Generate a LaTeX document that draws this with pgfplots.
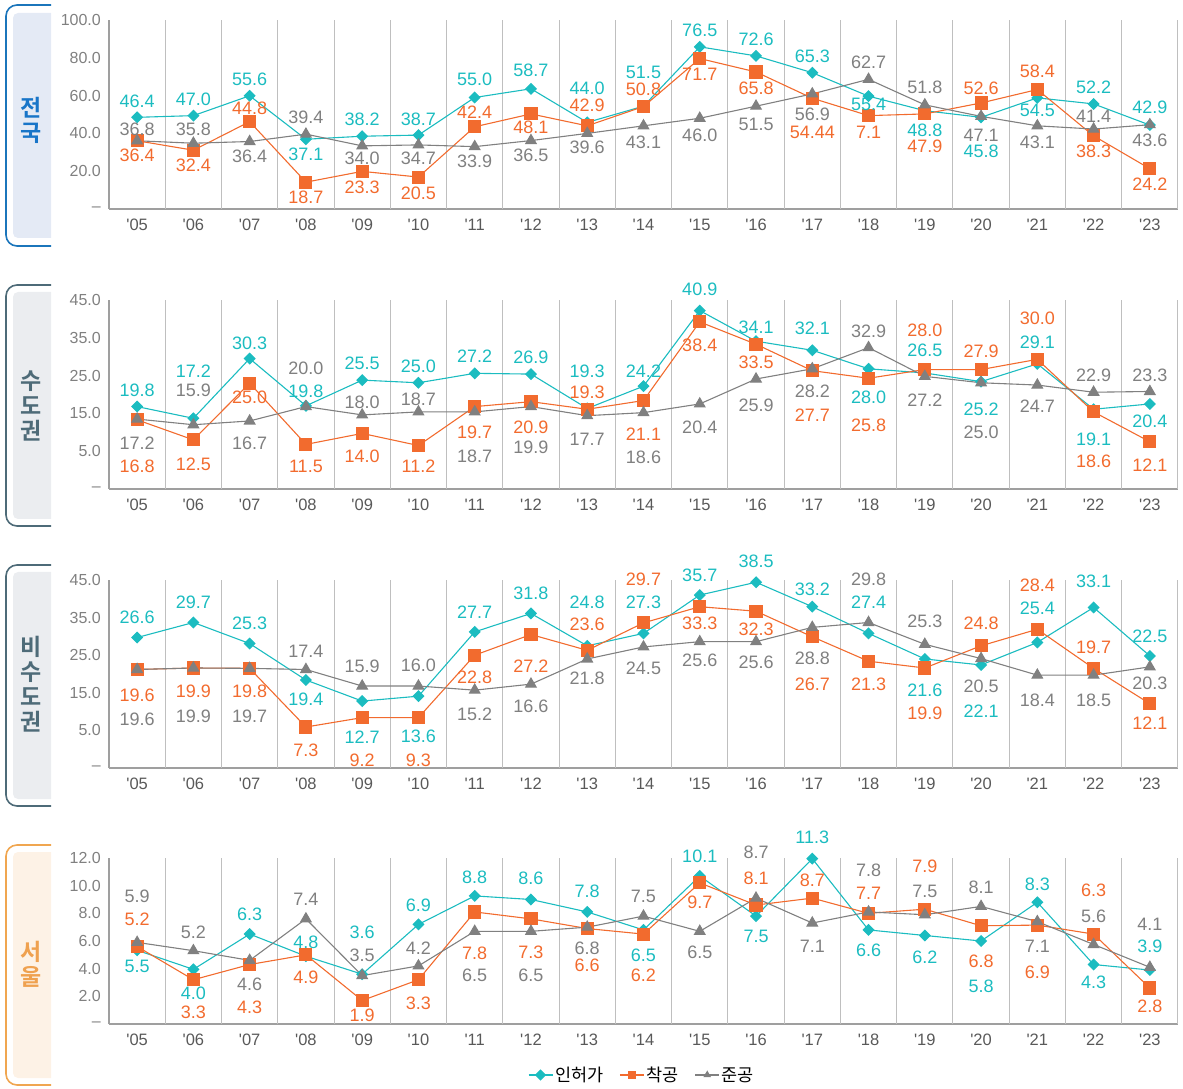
\documentclass[border=0pt]{standalone}
\usepackage{pgfplots}
\pgfplotsset{compat=1.18}
\usepackage{pgfplotstable}
\usepackage{fontspec}
\setmainfont{Liberation Sans}
\newfontfamily\lab{Liberation Sans}
\newfontfamily\kr{Noto Sans CJK KR}
\newfontfamily\krb{Noto Sans CJK KR Bold}
\definecolor{cteal}{HTML}{1BBCC0}
\definecolor{corange}{HTML}{F26B2E}
\definecolor{cgray}{HTML}{808080}
\definecolor{bBlue}{HTML}{1B75BB}
\definecolor{fBlue}{HTML}{E4EAF5}
\definecolor{tBlue}{HTML}{1875C8}
\definecolor{bSlate}{HTML}{4E6B78}
\definecolor{fSlate}{HTML}{EBEDF0}
\definecolor{bOr}{HTML}{F0A650}
\definecolor{fOr}{HTML}{FDF2E6}
\definecolor{tOr}{HTML}{EFA14F}

% x: category, a/b/c: 인허가/착공/준공 point values, la/lb/lc: label positions, ta/tb/tc: label texts
\pgfplotstableread{
x a b c la lb lc ta tb tc
0 48.5 36.1 36.1 56.8 28.4 41.9 46.4 36.4 36.8
1 49.4 31.1 34.8 58.3 23.3 42.3 47.0 32.4 35.8
2 59.9 46.2 35.7 68.4 53.5 28.1 55.6 44.8 36.4
3 36.9 14.2 39.6 29.0 6.4 48.5 37.1 18.7 39.4
4 38.5 19.9 33.4 47.6 11.7 26.6 38.2 23.3 34.0
5 39.1 16.9 33.9 47.6 8.2 26.6 38.7 20.5 34.7
6 59.0 43.5 33.0 68.4 51.2 25.0 55.0 42.4 33.9
7 63.6 50.3 36.2 73.4 43.2 28.4 58.7 48.1 36.5
8 45.8 44.0 40.0 63.6 54.7 32.5 44.0 42.9 39.6
9 54.4 54.2 44.0 72.1 63.2 35.5 51.5 50.8 43.1
10 85.8 79.6 48.0 94.7 71.0 39.1 76.5 71.7 46.0
11 81.0 72.5 54.4 89.9 63.9 44.9 72.6 65.8 51.5
12 72.1 58.6 60.9 81.0 40.5 50.3 65.3 54.44 56.9
13 59.7 49.4 68.6 55.1 40.5 77.4 55.4 7.1 62.7
14 52.0 50.3 55.1 41.7 33.4 64.5 48.8 47.9 51.8
15 48.5 56.1 49.0 30.7 63.9 39.1 45.8 52.6 47.1
16 58.8 63.2 44.0 52.0 72.8 35.5 54.5 58.4 43.1
17 55.6 38.7 42.3 64.5 30.7 49.0 52.2 38.3 41.4
18 44.4 21.3 44.6 53.8 13.3 36.1 42.9 24.2 43.6
}\tA

\pgfplotstableread{
x a b c la lb lc ta tb tc
0 16.8 13.3 13.5 21.0 0.9 7.1 19.8 16.8 17.2
1 13.7 8.0 12.0 26.1 1.5 21.0 17.2 12.5 15.9
2 29.5 23.0 13.0 33.5 19.2 7.1 30.3 25.0 16.7
3 17.0 6.8 16.8 20.8 0.9 27.0 19.8 11.5 20.0
4 23.8 9.7 14.6 28.3 3.7 17.9 25.5 14.0 18.0
5 23.1 6.5 15.4 27.4 0.9 18.6 25.0 11.2 18.7
6 25.6 16.8 15.4 30.1 10.1 3.7 27.2 19.7 18.7
7 25.4 18.1 16.8 29.9 11.3 5.9 26.9 20.9 19.9
8 16.3 16.1 14.4 26.1 20.6 8.1 19.3 19.3 17.7
9 22.2 18.4 15.2 26.1 9.5 3.3 24.2 21.1 18.6
10 42.2 39.2 17.5 47.7 33.0 11.4 40.9 38.4 20.4
11 34.1 33.3 24.1 37.7 28.4 17.2 34.1 33.5 25.9
12 31.7 26.3 26.8 37.5 14.5 20.8 32.1 27.7 28.2
13 26.8 24.3 32.4 19.2 11.9 36.8 28.0 25.8 32.9
14 25.7 26.6 24.8 31.7 37.0 18.6 26.5 28.0 27.2
15 23.4 26.6 23.1 16.1 31.5 9.9 25.2 27.9 25.0
16 28.1 29.3 22.5 33.9 40.1 17.0 29.1 30.0 24.7
17 16.1 15.4 20.6 8.1 2.4 25.0 19.1 18.6 22.9
18 17.5 7.5 20.8 13.0 1.3 25.0 20.4 12.1 23.3
}\tB

\pgfplotstableread{
x a b c la lb lc ta tb tc
0 29.7 21.2 21.2 35.2 14.4 8.0 26.6 19.6 19.6
1 33.7 21.6 21.6 39.0 15.4 8.8 29.7 19.9 19.9
2 28.1 21.5 21.5 33.6 15.4 8.8 25.3 19.8 19.7
3 18.4 5.9 21.2 13.3 -0.3 26.1 19.4 7.3 17.4
4 12.8 8.4 16.8 3.3 -3.0 22.1 12.7 9.2 15.9
5 14.1 8.4 16.8 3.3 -3.0 22.4 13.6 9.3 16.0
6 31.2 25.0 15.7 36.4 19.2 9.2 27.7 22.8 15.2
7 36.1 30.5 17.3 41.4 22.2 11.3 31.8 27.2 16.6
8 27.5 26.3 24.0 39.2 33.3 18.8 24.8 23.6 21.8
9 30.8 33.6 27.2 39.0 45.3 21.6 27.3 29.7 24.5
10 41.0 37.9 28.6 46.2 33.5 23.7 35.7 33.3 25.6
11 44.4 36.7 28.6 49.9 31.9 23.2 38.5 32.3 25.6
12 37.9 29.9 32.4 42.6 17.2 24.1 33.2 26.7 28.8
13 30.8 23.4 33.7 39.0 17.2 45.3 27.4 21.3 29.8
14 24.0 21.6 27.9 15.7 9.5 33.9 21.6 19.9 25.3
15 22.4 27.5 24.1 10.1 33.5 16.6 22.1 24.8 20.5
16 28.4 31.9 19.7 37.5 43.7 13.0 25.4 28.4 18.4
17 37.7 21.5 19.7 44.7 27.0 13.0 33.1 19.7 18.5
18 24.8 12.1 21.9 30.1 6.8 17.5 22.5 12.1 20.3
}\tC

\pgfplotstableread{
x a b c la lb lc ta tb tc
0 5.33 5.6 5.9 4.2 7.6 9.2 5.5 5.2 5.9
1 3.95 3.2 5.3 2.2 0.85 6.6 4.0 3.3 5.2
2 6.5 4.3 4.6 7.9 1.2 2.9 6.3 4.3 4.6
3 4.9 5.0 7.6 5.9 3.35 9.0 4.8 4.9 7.4
4 3.6 1.7 3.5 6.6 0.6 5.0 3.6 1.9 3.5
5 7.2 3.2 4.2 8.6 1.5 5.45 6.9 3.3 4.2
6 9.26 8.1 6.7 10.6 5.1 3.5 8.8 7.8 6.5
7 9.0 7.6 6.7 10.5 5.15 3.5 8.6 7.3 6.5
8 8.1 6.9 7.0 9.6 4.25 5.5 7.8 6.6 6.8
9 6.8 6.5 7.8 5.0 3.5 9.2 6.5 6.2 7.5
10 10.7 10.2 6.7 12.1 8.8 5.2 10.1 9.7 6.5
11 7.8 8.6 9.1 6.35 10.5 12.4 7.5 8.1 8.7
12 11.95 9.1 7.3 13.5 10.4 5.6 11.3 8.7 7.1
13 6.8 8.0 8.1 5.3 9.45 11.1 6.6 7.7 7.8
14 6.4 8.3 7.9 4.85 11.4 9.6 6.2 7.9 7.5
15 6.0 7.1 8.5 2.7 4.5 9.9 5.8 6.8 8.1
16 8.8 7.15 7.4 10.1 3.75 5.6 8.3 6.9 7.1
17 4.3 6.5 5.75 3.0 9.65 7.8 4.3 6.3 5.6
18 3.9 2.6 4.1 5.6 1.3 7.2 3.9 2.8 4.1
}\tD

\pgfplotsset{
  panel/.style={
    scale only axis, width=1069pt, clip=false,
    xmin=-0.5, xmax=18.5,
    axis x line*=bottom, axis y line*=left,
    axis line style={draw=gray!75, line width=1.1pt, -},
    xtick={0,...,18},
    xticklabels={'05,'06,'07,'08,'09,'10,'11,'12,'13,'14,'15,'16,'17,'18,'19,'20,'21,'22,'23},
    major tick length=0pt,
    extra x ticks={0.5,1.5,...,18.5}, extra x tick labels={},
    extra x tick style={grid=major, major grid style={draw=gray!50, line width=1pt}},
    xticklabel style={anchor=center, yshift=-16pt, font=\lab\fontsize{16.5}{16.5}\selectfont, text=black!65},
    yticklabel style={anchor=east, inner sep=0pt, xshift=-8pt, font=\lab\fontsize{16}{16}\selectfont, text=black!50},
  },
  s1/.style={color=cteal, line width=1.1pt, mark=square*, mark size=3.7pt, mark options={solid, rotate=45, fill=cteal, draw=cteal}},
  s2/.style={color=corange, line width=1.1pt, mark=square*, mark size=6pt, mark options={solid, fill=corange, draw=corange}},
  s3/.style={color=cgray, line width=1.1pt, mark=triangle*, mark size=6pt, mark options={solid, fill=cgray, draw=cgray}},
  lbl/.style={draw=none, mark=none, forget plot, nodes near coords, point meta=explicit symbolic,
    every node near coord/.append style={anchor=center, inner sep=0pt, font=\lab\fontsize{18}{18}\selectfont, text=#1}},
}

\begin{document}
\begin{tikzpicture}
\useasboundingbox (0pt,0pt) rectangle (1183pt,1088pt);

% side label boxes
\fill[fBlue] (51pt,1075pt) [rounded corners=5pt] -- (13pt,1075pt) -- (13pt,850pt) [sharp corners] -- (51pt,850pt) -- cycle;
\draw[bBlue, line width=1.6pt, rounded corners=11pt] (51pt,1083pt) -- (6pt,1083pt) -- (6pt,842pt) -- (51pt,842pt);
\node[text=tBlue, align=center, font=\krb\fontsize{23}{25}\selectfont] at (31pt,968pt) {전\\국};

\fill[fSlate] (51pt,796pt) [rounded corners=5pt] -- (13pt,796pt) -- (13pt,569pt) [sharp corners] -- (51pt,569pt) -- cycle;
\draw[bSlate, line width=1.6pt, rounded corners=11pt] (51pt,803pt) -- (6pt,803pt) -- (6pt,562pt) -- (51pt,562pt);
\node[text=bSlate, align=center, font=\krb\fontsize{23}{25}\selectfont] at (31pt,682pt) {수\\도\\권};

\fill[fSlate] (51pt,516pt) [rounded corners=5pt] -- (13pt,516pt) -- (13pt,289pt) [sharp corners] -- (51pt,289pt) -- cycle;
\draw[bSlate, line width=1.6pt, rounded corners=11pt] (51pt,523pt) -- (6pt,523pt) -- (6pt,282pt) -- (51pt,282pt);
\node[text=bSlate, align=center, font=\krb\fontsize{23}{25}\selectfont] at (31pt,404pt) {비\\수\\도\\권};

\fill[fOr] (51pt,236pt) [rounded corners=5pt] -- (13pt,236pt) -- (13pt,10pt) [sharp corners] -- (51pt,10pt) -- cycle;
\draw[bOr, line width=1.6pt, rounded corners=11pt] (51pt,243pt) -- (6pt,243pt) -- (6pt,3pt) -- (51pt,3pt);
\node[text=tOr, align=center, font=\krb\fontsize{23}{25}\selectfont] at (31pt,124pt) {서\\울};

% Panel 1
\begin{axis}[panel, at={(109pt,879pt)}, anchor=south west, height=189pt,
  ymin=0, ymax=100, ytick={0,20,40,60,80,100}, yticklabels={–,20.0,40.0,60.0,80.0,100.0}]
\addplot[s1] table[x=x,y=a]{\tA};
\addplot[s2] table[x=x,y=b]{\tA};
\addplot[s3] table[x=x,y=c]{\tA};
\addplot[lbl=cteal] table[x=x,y=la,meta=ta]{\tA};
\addplot[lbl=corange] table[x=x,y=lb,meta=tb]{\tA};
\addplot[lbl=cgray] table[x=x,y=lc,meta=tc]{\tA};
\end{axis}

% Panel 2
\begin{axis}[panel, at={(109pt,599pt)}, anchor=south west, height=189pt,
  ymin=-5, ymax=45, ytick={-5,5,15,25,35,45}, yticklabels={–,5.0,15.0,25.0,35.0,45.0}]
\addplot[s1] table[x=x,y=a]{\tB};
\addplot[s2] table[x=x,y=b]{\tB};
\addplot[s3] table[x=x,y=c]{\tB};
\addplot[lbl=cteal] table[x=x,y=la,meta=ta]{\tB};
\addplot[lbl=corange] table[x=x,y=lb,meta=tb]{\tB};
\addplot[lbl=cgray] table[x=x,y=lc,meta=tc]{\tB};
\end{axis}

% Panel 3
\begin{axis}[panel, at={(109pt,320pt)}, anchor=south west, height=188pt,
  ymin=-5, ymax=45, ytick={-5,5,15,25,35,45}, yticklabels={–,5.0,15.0,25.0,35.0,45.0}]
\addplot[s1] table[x=x,y=a]{\tC};
\addplot[s2] table[x=x,y=b]{\tC};
\addplot[s3] table[x=x,y=c]{\tC};
\addplot[lbl=cteal] table[x=x,y=la,meta=ta]{\tC};
\addplot[lbl=corange] table[x=x,y=lb,meta=tb]{\tC};
\addplot[lbl=cgray] table[x=x,y=lc,meta=tc]{\tC};
\end{axis}

% Panel 4
\begin{axis}[panel, at={(109pt,64pt)}, anchor=south west, height=166pt,
  ymin=0, ymax=12, ytick={0,2,4,6,8,10,12}, yticklabels={–,2.0,4.0,6.0,8.0,10.0,12.0},
  legend columns=3,
  legend style={at={(0.4986,-0.307)}, anchor=center, draw=none, fill=none,
    font=\kr\fontsize{17.5}{17.5}\selectfont, inner sep=0pt,
    /tikz/every even column/.append style={column sep=14pt}},
  legend image code/.code={\draw[mark repeat=2,mark phase=2,#1,mark size=3.4pt] plot coordinates {(0pt,0pt) (12pt,0pt) (24pt,0pt)};}]
\addplot[s1] table[x=x,y=a]{\tD};
\addplot[s2] table[x=x,y=b]{\tD};
\addplot[s3] table[x=x,y=c]{\tD};
\addplot[lbl=cteal] table[x=x,y=la,meta=ta]{\tD};
\addplot[lbl=corange] table[x=x,y=lb,meta=tb]{\tD};
\addplot[lbl=cgray] table[x=x,y=lc,meta=tc]{\tD};
\legend{인허가,착공,준공}
\end{axis}
\end{tikzpicture}
\end{document}
